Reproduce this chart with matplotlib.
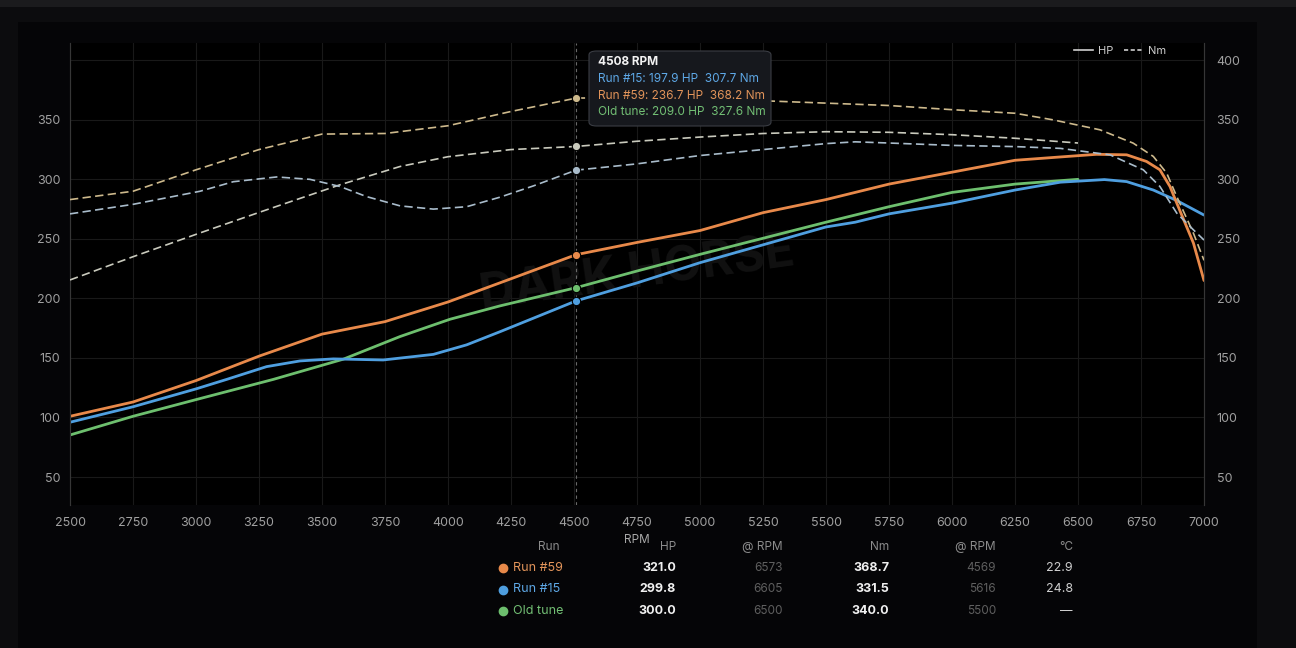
import numpy as np
import matplotlib
matplotlib.use("Agg")
import matplotlib.pyplot as plt
from matplotlib.lines import Line2D
from matplotlib.patches import FancyBboxPatch, Rectangle

plt.rcParams["font.family"] = ["Inter", "DejaVu Sans"]

# ============================================================
# DATA
# ============================================================

runs = ["Run #59", "Run #15", "Old tune"]

hp59_rpm = [2500, 2750, 3000, 3250, 3500, 3750, 4000, 4250, 4508, 4750, 5000,
            5250, 5500, 5750, 6000, 6250, 6430, 6573, 6693, 6772, 6825, 6865,
            6892, 6958, 7000]
hp59 = [101.0, 113.0, 131.0, 151.5, 170.0, 180.5, 197.0, 216.5, 236.7, 247.0,
        257.0, 272.0, 283.0, 296.0, 306.0, 316.0, 318.8, 321.0, 320.6, 315.0,
        308.0, 294.0, 280.0, 246.5, 215.0]

hp15_rpm = [2500, 2750, 3000, 3122, 3280, 3413, 3545, 3743, 3942, 4074, 4206,
            4339, 4508, 4750, 5000, 5250, 5500, 5616, 5750, 6000, 6250, 6430,
            6605, 6693, 6799, 6892, 7000]
hp15 = [96.0, 109.0, 124.0, 132.0, 142.7, 147.5, 149.2, 148.3, 153.0, 161.0,
        172.0, 183.4, 197.9, 213.0, 230.0, 245.0, 260.0, 264.0, 271.0, 280.0,
        291.0, 297.6, 299.8, 298.1, 291.0, 282.2, 270.0]

hpold_rpm = [2500, 2750, 3000, 3307, 3585, 3810, 4008, 4206, 4508, 4750, 5000,
             5250, 5500, 5750, 6000, 6250, 6500]
hpold = [85.3, 101.0, 115.0, 132.0, 149.0, 168.0, 182.5, 193.7, 209.0, 223.0,
         237.0, 250.5, 264.0, 277.0, 289.0, 296.0, 300.0]

nm59_rpm = [2500, 2750, 3000, 3250, 3500, 3750, 4000, 4250, 4508, 4750, 5000,
            5250, 5500, 5750, 6000, 6250, 6400, 6587, 6719, 6799, 6852, 6892,
            6958, 7000]
nm59 = [283.0, 290.0, 308.0, 325.0, 338.0, 338.5, 345.0, 357.0, 368.2, 369.0,
        367.0, 366.0, 364.0, 362.0, 358.5, 355.5, 350.0, 341.6, 330.4, 319.2,
        305.2, 285.5, 254.8, 232.0]

nm15_rpm = [2500, 2750, 3016, 3148, 3320, 3452, 3571, 3677, 3810, 3942, 4074,
            4206, 4339, 4508, 4750, 5000, 5250, 5500, 5616, 5750, 6000, 6250,
            6430, 6627, 6759, 6825, 6892, 6958, 7000]
nm15 = [271.0, 279.0, 290.0, 298.0, 302.0, 300.0, 294.0, 285.5, 277.7, 275.0,
        277.0, 285.0, 294.5, 307.7, 313.0, 320.0, 325.0, 330.0, 331.5, 330.5,
        328.5, 327.5, 326.0, 320.6, 308.0, 294.0, 271.6, 257.6, 249.0]

nmold_rpm = [2500, 2750, 3016, 3280, 3571, 3810, 4000, 4250, 4508, 4750, 5000,
             5250, 5500, 5750, 6000, 6250, 6500]
nmold = [215.5, 235.0, 255.0, 274.4, 295.4, 310.8, 319.0, 325.0, 327.6, 332.0,
         335.5, 338.5, 340.0, 339.5, 337.5, 334.5, 330.5]

hover_rpm = 4508

# summary table
peak_hp = [321.0, 299.8, 300.0]
peak_hp_rpm = ["6573", "6605", "6500"]
peak_nm = [368.7, 331.5, 340.0]
peak_nm_rpm = ["4569", "5616", "5500"]
temps = ["22.9", "24.8", "\u2014"]

# ============================================================
# STYLE
# ============================================================

hp_colors = {"Run #59": "#e8894a", "Run #15": "#4f9fe0", "Old tune": "#6dbf6e"}
nm_colors = {"Run #59": "#cdb98c", "Run #15": "#a9bccb", "Old tune": "#c9cabd"}
text_colors = {"Run #59": "#e2945a", "Run #15": "#5ea8e6", "Old tune": "#72bf74"}

W, H = 1296, 648


def fx(x):
    return x / W


def fy(y):
    return 1 - y / H


fig = plt.figure(figsize=(12.96, 6.48), dpi=100)
fig.patch.set_facecolor("#0c0c0e")

# card / top strip
fig.add_artist(Rectangle((0, fy(7)), 1, 7 / H, transform=fig.transFigure,
                         facecolor="#1b1b1d", edgecolor="none", zorder=0))
fig.add_artist(Rectangle((fx(18), 0), fx(1257 - 18), fy(22), transform=fig.transFigure,
                         facecolor="#050507", edgecolor="none", zorder=0))

ax = fig.add_axes([fx(70), fy(505), fx(1204 - 70), (505 - 43) / H])
ax.set_facecolor("#000000")
ax2 = ax.twinx()

ylim = (26.5, 414.5)

hp_series = {"Run #59": (hp59_rpm, hp59), "Run #15": (hp15_rpm, hp15),
             "Old tune": (hpold_rpm, hpold)}
nm_series = {"Run #59": (nm59_rpm, nm59), "Run #15": (nm15_rpm, nm15),
             "Old tune": (nmold_rpm, nmold)}

# Nm (dashed)
for name in ["Run #59", "Old tune", "Run #15"]:
    r, v = nm_series[name]
    ax2.plot(r, v, color=nm_colors[name], lw=1.2, dashes=(5, 2.6), zorder=3)

# HP (solid)
for name in ["Old tune", "Run #15", "Run #59"]:
    r, v = hp_series[name]
    ax.plot(r, v, color=hp_colors[name], lw=2.0, solid_capstyle="round",
            solid_joinstyle="round", zorder=4)

# hover line + markers
ax.axvline(hover_rpm, color="#6a6a6a", lw=0.8, ls=(0, (3, 3)), zorder=2)
hover_vals = {}
for name in runs:
    r, v = hp_series[name]
    hv = v[r.index(hover_rpm)]
    ax.plot([hover_rpm], [hv], "o", ms=6, color=hp_colors[name],
            mec="#000000", mew=0.8, zorder=6)
    r2, v2 = nm_series[name]
    nv = v2[r2.index(hover_rpm)]
    ax2.plot([hover_rpm], [nv], "o", ms=6, color=nm_colors[name],
             mec="#000000", mew=0.8, zorder=6)
    hover_vals[name] = (hv, nv)

# axes styling
for a in (ax, ax2):
    a.set_xlim(2500, 7000)
    a.set_ylim(*ylim)
    for s in ["top", "bottom"]:
        a.spines[s].set_visible(False)
    a.spines["left"].set_color("#363636")
    a.spines["right"].set_color("#363636")
    a.tick_params(length=0, colors="#a0a0a0", labelsize=9)

ax.set_xticks(np.arange(2500, 7001, 250))
ax.set_yticks(np.arange(50, 401, 50))
ax.set_yticklabels([str(t) if t < 400 else "" for t in range(50, 401, 50)])
ax2.set_yticks(np.arange(50, 401, 50))
ax.tick_params(axis="x", pad=9)
ax.tick_params(axis="y", pad=7)
ax2.tick_params(axis="y", pad=9)
ax.grid(True, color="#191919", lw=0.8, zorder=0)
ax.set_axisbelow(True)
ax.set_xlabel("RPM", color="#a8a8a8", fontsize=8.5, labelpad=3)

# watermark
ax.text(0.50, 0.50, "DARK HORSE", transform=ax.transAxes, fontsize=35,
        fontweight="bold", color="#111111", rotation=8, ha="center",
        va="center", zorder=1)

# legend
handles = [Line2D([], [], color="#cfcfcf", lw=1.2, label="HP"),
           Line2D([], [], color="#cfcfcf", lw=1.2, ls=(0, (2.5, 1.5)), label="Nm")]
leg = ax.legend(handles=handles, loc="upper right", bbox_to_anchor=(0.975, 1.015),
                ncol=2, frameon=False, fontsize=8, handlelength=1.7,
                handletextpad=0.4, columnspacing=1.0, labelcolor="#cfcfcf")

# tooltip
fig.add_artist(FancyBboxPatch((fx(589), fy(126)), fx(771 - 589), (126 - 51) / H,
                              boxstyle="round,pad=0,rounding_size=0.006",
                              transform=fig.transFigure, facecolor="#16181d",
                              edgecolor="#3a3d44", lw=0.8, zorder=10))
fig.text(fx(598), fy(62), f"{hover_rpm} RPM", color="#f2f2f2", fontsize=8.5,
         fontweight="bold", va="center", zorder=11)
for i, name in enumerate(["Run #15", "Run #59", "Old tune"]):
    hv, nv = hover_vals[name]
    fig.text(fx(598), fy(79 + i * 16.7), f"{name}: {hv:.1f} HP  {nv:.1f} Nm",
             color=text_colors[name], fontsize=8.5, va="center", zorder=11)

# summary table
hdr_y = 547
hdr_col = "#8c8c8c"
cols = [("Run", 560), ("HP", 676), ("@ RPM", 783), ("Nm", 889), ("@ RPM", 996),
        ("\u00b0C", 1073)]
for label, x in cols:
    fig.text(fx(x), fy(hdr_y), label, color=hdr_col, fontsize=8.5, ha="right",
             va="center")

for i, name in enumerate(runs):
    y = 568 + i * 21.5
    fig.add_artist(Line2D([fx(503)], [fy(y)], marker="o", ms=6,
                          color=hp_colors[name], transform=fig.transFigure))
    fig.text(fx(513), fy(y), name, color=text_colors[name], fontsize=9,
             va="center")
    fig.text(fx(676), fy(y), f"{peak_hp[i]:.1f}", color="#f0f0f0", fontsize=9,
             fontweight="bold", ha="right", va="center")
    fig.text(fx(783), fy(y), peak_hp_rpm[i], color="#5f5f5f", fontsize=8.5,
             ha="right", va="center")
    fig.text(fx(889), fy(y), f"{peak_nm[i]:.1f}", color="#f0f0f0", fontsize=9,
             fontweight="bold", ha="right", va="center")
    fig.text(fx(996), fy(y), peak_nm_rpm[i], color="#5f5f5f", fontsize=8.5,
             ha="right", va="center")
    fig.text(fx(1073), fy(y), temps[i], color="#cfcfcf", fontsize=9,
             ha="right", va="center")

fig.savefig("out.png", dpi=100, facecolor=fig.get_facecolor())
